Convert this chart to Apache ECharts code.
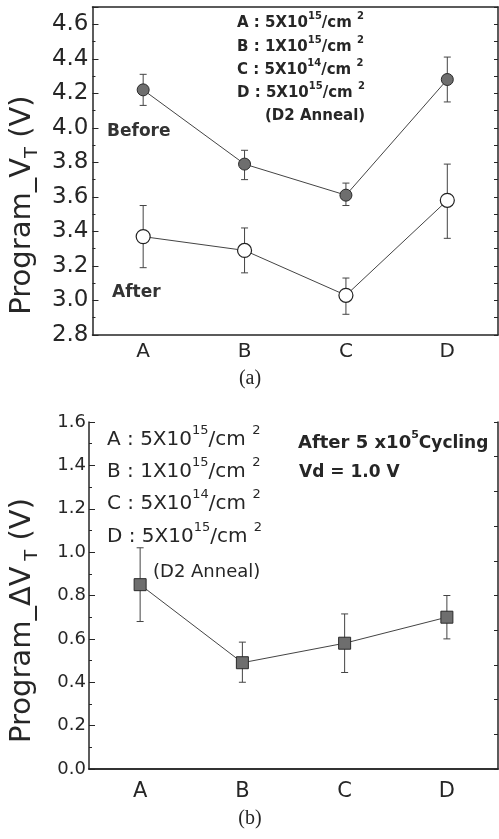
<!DOCTYPE html>
<html>
<head>
<meta charset="utf-8">
<script src="https://cdn.jsdelivr.net/npm/echarts@6/dist/echarts.min.js"></script>
<style>
  html, body { margin: 0; padding: 0; background: #fff; }
  #main { width: 499px; height: 839px; }
</style>
</head>
<body>
<div id="main"></div>
<script>
// categories
var cats = ['A', 'B', 'C', 'D'];

// (a) program Vt before / after cycling, with error bar ends
var beforeVt   = [4.22, 3.79, 3.61, 4.28];
var beforeLow  = [4.13, 3.70, 3.55, 4.15];
var beforeHigh = [4.31, 3.87, 3.68, 4.41];
var afterVt    = [3.37, 3.29, 3.03, 3.58];
var afterLow   = [3.19, 3.16, 2.92, 3.36];
var afterHigh  = [3.55, 3.42, 3.13, 3.79];

// (b) program delta Vt
var deltaVt   = [0.85, 0.49, 0.58, 0.70];
var deltaLow  = [0.68, 0.40, 0.445, 0.60];
var deltaHigh = [1.02, 0.585, 0.715, 0.80];

// axis ranges
var topRange = [2.8, 4.7];
var botRange = [0, 1.6];

// legend texts
var doseRows = [
    ['A : 5X10', '15', '/cm', '2'],
    ['B : 1X10', '15', '/cm', '2'],
    ['C : 5X10', '14', '/cm', '2'],
    ['D : 5X10', '15', '/cm', '2']
];

var INK = '#262626';
var SANS = 'DejaVu Sans';

function errData(low, high){
    var out = [];
    for(var i=0;i<low.length;i++){
        out.push([i, low[i], high[i]]);
    }
    return out;
}

function errRender(params, api){
    var x = api.value(0);
    var lo = api.coord([x, api.value(1)]);
    var hi = api.coord([x, api.value(2)]);
    var w = 3.5;
    var st = {stroke: '#444', lineWidth: 1};
    return {
        type: 'group',
        children: [
            {type: 'line', shape: {x1: lo[0], y1: lo[1], x2: hi[0], y2: hi[1]}, style: st},
            {type: 'line', shape: {x1: hi[0]-w, y1: hi[1], x2: hi[0]+w, y2: hi[1]}, style: st},
            {type: 'line', shape: {x1: lo[0]-w, y1: lo[1], x2: lo[0]+w, y2: lo[1]}, style: st}
        ]
    };
}

function catAxis(grid, fontSize, margin){
    return {
        type: 'category', gridIndex: grid, data: cats, boundaryGap: true,
        axisLine: {lineStyle: {color: INK, width: 1.5}},
        axisTick: {inside: true, alignWithLabel: true, length: 5, lineStyle: {color: INK}},
        axisLabel: {fontFamily: SANS, fontSize: fontSize, color: INK, margin: margin},
        splitLine: {show: false}
    };
}
function boxAxis(grid){
    return {
        type: 'category', gridIndex: grid, data: cats, position: 'top',
        axisLine: {lineStyle: {color: INK, width: 1.5}},
        axisTick: {show: false}, axisLabel: {show: false}, splitLine: {show: false}
    };
}
function rightAxis(grid, min, max, interval){
    return {
        type: 'value', gridIndex: grid, position: 'right', min: min, max: max, interval: interval,
        axisLine: {show: true, lineStyle: {color: INK, width: 1.5}},
        axisTick: {show: true, inside: true, length: 4, lineStyle: {color: INK}},
        axisLabel: {show: false}, splitLine: {show: false}
    };
}

// one dose line with raised exponents
function legendRow(x, y, row, big, small, weight, lift){
    return {
        type: 'text', x: x, y: y,
        style: {
            text: '{m|' + row[0] + '}{s|' + row[1] + '}{m|' + row[2] + ' }{s|' + row[3] + '}',
            verticalAlign: 'middle',
            rich: {
                m: {fontFamily: SANS, fontSize: big, fontWeight: weight, fill: INK, verticalAlign: 'bottom', padding: [lift, 0, 0, 0]},
                s: {fontFamily: SANS, fontSize: small, fontWeight: weight, fill: INK, verticalAlign: 'top'}
            }
        }
    };
}

var graphics = [];
var topRowsY = [21, 45, 68, 91];
var botRowsY = [437, 469, 501, 534];
for(var r=0;r<doseRows.length;r++){
    graphics.push(legendRow(237, topRowsY[r], doseRows[r], 15, 10, 'bold', 5));
    graphics.push(legendRow(107, botRowsY[r], doseRows[r], 20, 13, 'normal', 6));
}
graphics.push({type: 'text', x: 265, y: 116, style: {text: '(D2 Anneal)', fontFamily: SANS, fontSize: 15, fontWeight: 'bold', fill: INK, verticalAlign: 'middle'}});
graphics.push({type: 'text', x: 153, y: 572, style: {text: '(D2 Anneal)', fontFamily: SANS, fontSize: 18, fill: INK, verticalAlign: 'middle'}});
graphics.push({type: 'text', x: 107, y: 132, style: {text: 'Before', fontFamily: SANS, fontSize: 17, fontWeight: 'bold', fill: '#333', verticalAlign: 'middle'}});
graphics.push({type: 'text', x: 112, y: 293, style: {text: 'After', fontFamily: SANS, fontSize: 17, fontWeight: 'bold', fill: '#333', verticalAlign: 'middle'}});
graphics.push({
    type: 'text', x: 298, y: 441,
    style: {
        text: '{m|After 5 x10}{s|5}{c|Cycling}',
        verticalAlign: 'middle',
        rich: {
            m: {fontFamily: SANS, fontSize: 18, fontWeight: 'bold', fill: INK, verticalAlign: 'bottom', padding: [5, 0, 0, 0]},
            s: {fontFamily: SANS, fontSize: 11, fontWeight: 'bold', fill: INK, verticalAlign: 'top'},
            c: {fontFamily: SANS, fontSize: 17, fontWeight: 'bold', fill: INK, verticalAlign: 'bottom', padding: [5, 0, 0, 0]}
        }
    }
});
graphics.push({type: 'text', x: 299, y: 473, style: {text: 'Vd = 1.0 V', fontFamily: SANS, fontSize: 17, fontWeight: 'bold', fill: INK, verticalAlign: 'middle'}});
graphics.push({type: 'text', x: 250, y: 379, style: {text: '(a)', fontFamily: 'Liberation Serif', fontSize: 20, fill: INK, align: 'center', verticalAlign: 'middle'}});
graphics.push({type: 'text', x: 250, y: 819, style: {text: '(b)', fontFamily: 'Liberation Serif', fontSize: 20, fill: INK, align: 'center', verticalAlign: 'middle'}});

var nameRich = {
    sub: {fontFamily: SANS, fontSize: 18, color: INK, verticalAlign: 'bottom', padding: [0, 0, -4, 0]}
};

var myChart = echarts.init(document.getElementById('main'));
var option = {
    backgroundColor: '#fff',
    animation: false,
    grid: [
        {left: 84, top: 7, right: 1, height: 328},
        {left: 84, top: 422, right: 1, height: 347}
    ],
    xAxis: [
        catAxis(0, 20, 7),
        boxAxis(0),
        catAxis(1, 21, 12),
        boxAxis(1)
    ],
    yAxis: [
        {
            type: 'value', gridIndex: 0, min: topRange[0], max: topRange[1], interval: 0.2,
            name: 'Program_V{sub|T} (V)', nameLocation: 'middle', nameGap: 52,
            nameTextStyle: {fontFamily: SANS, fontSize: 29, color: INK, rich: nameRich, padding: [0, 68, 0, 0]},
            axisLine: {show: true, lineStyle: {color: INK, width: 1.5}},
            axisTick: {show: true, inside: true, length: 6, lineStyle: {color: INK}},
            minorTick: {show: true, splitNumber: 2, length: 3, lineStyle: {color: INK}},
            axisLabel: {
                fontFamily: SANS, fontSize: 23, color: INK, margin: 4, showMaxLabel: false,
                formatter: function(v){ return v.toFixed(1); }
            },
            splitLine: {show: false}
        },
        rightAxis(0, topRange[0], topRange[1], 0.1),
        {
            type: 'value', gridIndex: 1, min: botRange[0], max: botRange[1], interval: 0.2,
            name: 'Program_\u0394V{sub| T} (V)', nameLocation: 'middle', nameGap: 52,
            nameTextStyle: {fontFamily: SANS, fontSize: 29, color: INK, rich: nameRich, padding: [0, 50, 0, 0]},
            axisLine: {show: true, lineStyle: {color: INK, width: 1.5}},
            axisTick: {show: true, inside: true, length: 6, lineStyle: {color: INK}},
            minorTick: {show: true, splitNumber: 2, length: 3, lineStyle: {color: INK}},
            axisLabel: {
                fontFamily: SANS, fontSize: 18, color: INK, margin: 3,
                formatter: function(v){ return v.toFixed(1); }
            },
            splitLine: {show: false}
        },
        rightAxis(1, 0, 10, 1)
    ],
    series: [
        {
            type: 'custom', xAxisIndex: 0, yAxisIndex: 0, z: 2,
            renderItem: errRender, encode: {x: 0, y: [1, 2]},
            data: errData(beforeLow, beforeHigh)
        },
        {
            type: 'line', name: 'Before', xAxisIndex: 0, yAxisIndex: 0, z: 3,
            data: beforeVt, symbol: 'circle', symbolSize: 12,
            itemStyle: {color: '#6e6e6e', borderColor: '#2a2a2a', borderWidth: 1},
            lineStyle: {color: '#444', width: 1}
        },
        {
            type: 'custom', xAxisIndex: 0, yAxisIndex: 0, z: 2,
            renderItem: errRender, encode: {x: 0, y: [1, 2]},
            data: errData(afterLow, afterHigh)
        },
        {
            type: 'line', name: 'After', xAxisIndex: 0, yAxisIndex: 0, z: 3,
            data: afterVt, symbol: 'circle', symbolSize: 14,
            itemStyle: {color: '#fff', borderColor: '#222', borderWidth: 1.2},
            lineStyle: {color: '#444', width: 1}
        },
        {
            type: 'custom', xAxisIndex: 2, yAxisIndex: 2, z: 2,
            renderItem: errRender, encode: {x: 0, y: [1, 2]},
            data: errData(deltaLow, deltaHigh)
        },
        {
            type: 'line', name: 'Delta', xAxisIndex: 2, yAxisIndex: 2, z: 3,
            data: deltaVt, symbol: 'rect', symbolSize: 12,
            itemStyle: {color: '#6e6e6e', borderColor: '#2a2a2a', borderWidth: 1},
            lineStyle: {color: '#444', width: 1}
        }
    ],
    graphic: graphics
};
myChart.setOption(option);
</script>
</body>
</html>
